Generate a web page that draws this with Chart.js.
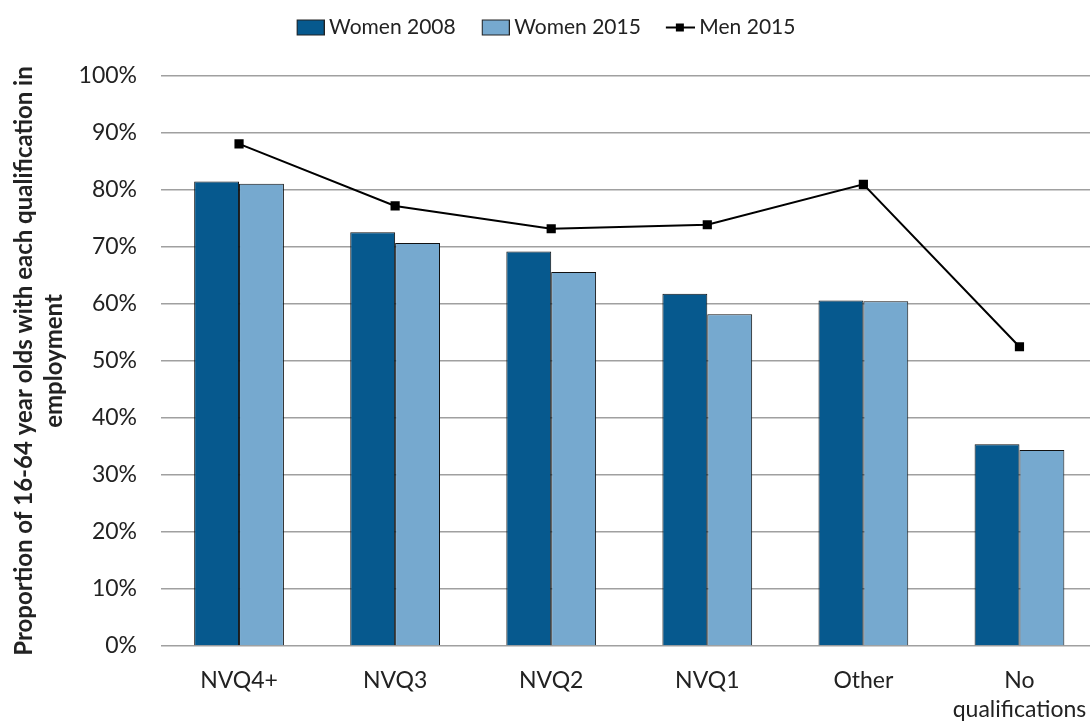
<!DOCTYPE html>
<html lang="en">

<head>
    <meta charset="UTF-8">
    <title>Employment rate by qualification</title>
    <script src="https://cdn.jsdelivr.net/npm/chart.js"></script>
    <style>
        html, body { margin: 0; padding: 0; overflow: hidden; background: #fff; }
        .wrap { position: relative; width: 1104px; height: 730px; }
    </style>
</head>

<body>
    <div class="wrap">
        <canvas id="graphique"></canvas>
    </div>

    <script>
        // Data (percent)
        const categories = ["NVQ4+", "NVQ3", "NVQ2", "NVQ1", "Other", ["No", "qualifications"]];
        const women2008 = [81.5, 72.6, 69.2, 61.8, 60.6, 35.4];
        const women2015 = [81.1, 70.7, 65.6, 58.2, 60.5, 34.4];
        const men2015 = [88.1, 77.2, 73.2, 73.9, 81.0, 52.5];
        const seriesNames = ["Women 2008", "Women 2015", "Men 2015"];
        const yTicks = [0, 10, 20, 30, 40, 50, 60, 70, 80, 90, 100];

        const dark = "#06598e";
        const light = "#76a9cf";
        const textColor = "#222";

        // legend symbols drawn on small canvases, symbol sits in the right part
        function makeIcon(kind, color) {
            const c = document.createElement("canvas");
            c.width = 46;
            c.height = 18;
            const g = c.getContext("2d");
            if (kind === "box") {
                g.fillStyle = color;
                g.fillRect(18.5, 1.5, 27, 15);
                g.strokeStyle = "#222";
                g.lineWidth = 1;
                g.strokeRect(18.5, 1.5, 27, 15);
            } else {
                g.strokeStyle = "#000";
                g.lineWidth = 2;
                g.beginPath();
                g.moveTo(17, 9);
                g.lineTo(46, 9);
                g.stroke();
                g.fillStyle = "#000";
                g.fillRect(27, 5, 8, 8);
            }
            return c;
        }
        const icons = [makeIcon("box", dark), makeIcon("box", light), makeIcon("line")];

        // space between legend and plot, legend moved a bit to the left
        const legendGap = {
            id: "legendGap",
            beforeInit(chart) {
                const fitOrig = chart.legend.fit;
                chart.legend.fit = function fit() {
                    fitOrig.bind(chart.legend)();
                    this.height += 28;
                };
            },
            afterLayout(chart) {
                chart.legend.left -= 12;
                chart.legend.right -= 12;
            }
        };

        const ctx = document.getElementById("graphique").getContext("2d");

        new Chart(ctx, {
            type: "bar",
            data: {
                labels: categories,
                datasets: [{
                    label: seriesNames[0],
                    data: women2008,
                    backgroundColor: dark,
                    borderColor: "#111",
                    borderWidth: 1,
                    categoryPercentage: 0.575,
                    barPercentage: 1,
                }, {
                    label: seriesNames[1],
                    data: women2015,
                    backgroundColor: light,
                    borderColor: "#111",
                    borderWidth: 1,
                    categoryPercentage: 0.575,
                    barPercentage: 1,
                }, {
                    type: "line",
                    label: seriesNames[2],
                    data: men2015,
                    order: -1,
                    borderColor: "#000",
                    backgroundColor: "#000",
                    borderWidth: 2,
                    pointStyle: "rect",
                    pointRadius: 6.5,
                    pointBorderWidth: 0,
                    tension: 0,
                }],
            },
            options: {
                responsive: true,
                maintainAspectRatio: false,
                animation: false,
                layout: { padding: { top: 3, left: 0, right: 0, bottom: 0 } },
                plugins: {
                    tooltip: { enabled: false },
                    legend: {
                        position: "top",
                        labels: {
                            usePointStyle: true,
                            pointStyleWidth: 34,
                            padding: 14,
                            color: textColor,
                            font: { family: "Lato", size: 21 },
                            generateLabels(chart) {
                                return chart.data.datasets.map((ds, i) => ({
                                    text: ds.label,
                                    datasetIndex: i,
                                    pointStyle: icons[i],
                                    fontColor: textColor,
                                    hidden: !chart.isDatasetVisible(i),
                                    lineWidth: 0,
                                }));
                            },
                        },
                    },
                },
                scales: {
                    x: {
                        grid: { display: false },
                        border: { display: false },
                        ticks: {
                            color: textColor,
                            padding: 12,
                            font: { family: "Lato", size: 23, lineHeight: 1.25 },
                            maxRotation: 0,
                        },
                        afterFit(scale) { scale.height = 84; },
                    },
                    y: {
                        min: 0,
                        max: 100,
                        afterBuildTicks(scale) { scale.ticks = yTicks.map(v => ({ value: v })); },
                        grid: { color: "#a0a0a0", lineWidth: 1.5, drawTicks: false },
                        border: { display: false },
                        ticks: {
                            color: textColor,
                            padding: 24,
                            font: { family: "Lato", size: 23 },
                            callback: (v) => v + "%",
                        },
                        title: {
                            display: true,
                            text: ["Proportion of 16-64 year olds with each qualification in", "employment"],
                            color: textColor,
                            font: { family: "Lato", size: 24, weight: "bold", lineHeight: 1.25 },
                            padding: { top: 9, bottom: 0 },
                        },
                        afterFit(scale) { scale.width = 161; },
                    },
                },
            },
            plugins: [legendGap],
        });
    </script>
</body>

</html>
